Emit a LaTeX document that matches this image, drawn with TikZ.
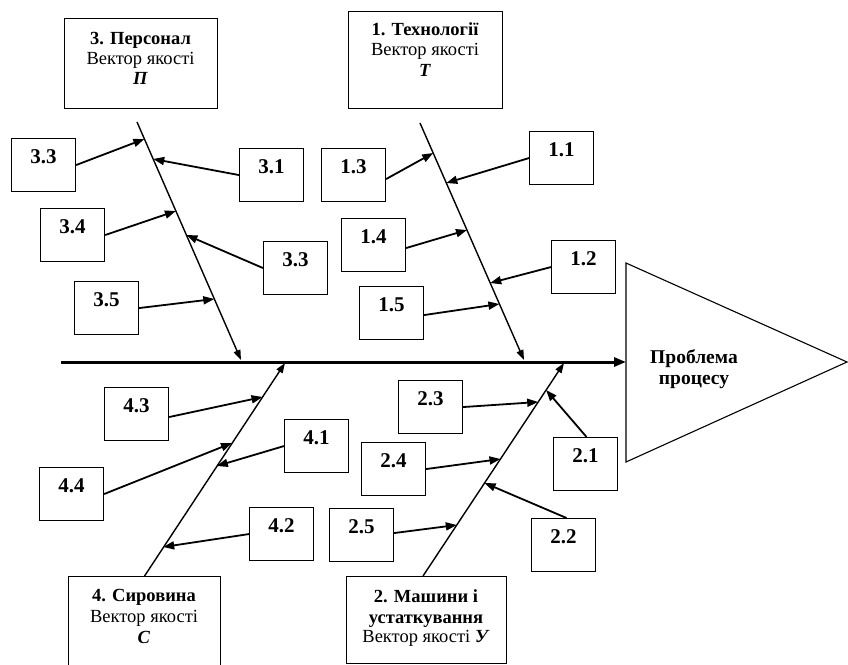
\documentclass[tikz,border=0pt]{standalone}
\usepackage{fontspec}
\setmainfont{Liberation Serif}
\usetikzlibrary{arrows.meta,calc}
\begin{document}
\begin{tikzpicture}[x=1pt,y=-1pt,
  sbox/.style={draw=black, line width=1.1pt, inner sep=0pt, anchor=north west, minimum width=64pt, minimum height=53pt},
  bbox/.style={draw=black, line width=1.1pt, inner sep=0pt, anchor=north west},
  num/.style={font=\fontsize{21}{24}\selectfont\bfseries, anchor=base, inner sep=0pt},
  ttl/.style={font=\fontsize{18.5}{21}\selectfont\bfseries, anchor=base, inner sep=0pt},
  ptl/.style={font=\fontsize{19.5}{22}\selectfont\bfseries, anchor=base, inner sep=0pt},
  txt/.style={font=\fontsize{18.5}{21}\selectfont, anchor=base, inner sep=0pt},
  bone/.style={line width=1.4pt, -{Triangle[length=10pt,width=7pt]}},
  conn/.style={line width=1.8pt, -{Triangle[length=11pt,width=8pt]}},
  spine/.style={line width=3pt, -{Triangle[length=12pt,width=9pt]}},
]
\useasboundingbox (0,0) rectangle (848,664);
\clip (0,0) rectangle (848,664);

% big boxes
\node[bbox, minimum width=153pt, minimum height=90pt] (B3) at (64,18) {};
\node[ttl] (B3a) at (140.5,44.5) {3. Персонал};
\node[txt] (B3b) at (140.5,64) {Вектор якості};
\node[ttl] (B3c) at (140.5,84.5) {\textit{П}};

\node[bbox, minimum width=154pt, minimum height=97pt] (B1) at (348,11) {};
\node[ttl] (B1a) at (425,35) {1. Технології};
\node[txt] (B1b) at (425,55) {Вектор якості};
\node[ttl] (B1c) at (425,76.5) {\textit{Т}};

\node[bbox, minimum width=152pt, minimum height=90pt] (B4) at (68,576) {};
\node[ttl] (B4a) at (144,601.5) {4. Сировина};
\node[txt] (B4b) at (144,622.5) {Вектор якості};
\node[ttl] (B4c) at (144,643) {\textit{С}};

\node[bbox, minimum width=160pt, minimum height=87pt] (B2) at (346,576) {};
\node[ttl] (B2a) at (426,602.5) {2. Машини і};
\node[ttl] (B2b) at (426,623) {устаткування};
\node[txt] (B2c) at (426,642) {Вектор якості \textbf{\textit{У}}};

% small boxes
\foreach \n/\x/\y/\t in {s33a/11/138/3.3, s31/239/148/3.1, s13/321/148/1.3, s11/529/131/1.1,
  s34/40/208/3.4, s33b/263/241/3.3, s14/341/218/1.4, s12/551/240/1.2,
  s35/74/281/3.5, s15/359/286/1.5, s43/104/387/4.3, s41/284/419/4.1,
  s44/39/467/4.4, s42/249/507/4.2, s23/398/380/2.3, s24/361/442/2.4,
  s21/553/437/2.1, s22/531/518/2.2, s25/329/508/2.5}{
  \node[sbox] (\n) at (\x,\y) {};
  \node[num] (\n l) at ($(\n.north)+(0,25)$) {\t};
}

% triangle
\coordinate (T1) at (626,263);
\coordinate (T2) at (847,362);
\coordinate (T3) at (626,462);
\coordinate (Tm) at (626,362);
\draw[line width=1.1pt] (T1) -- (T2) -- (T3) -- cycle;
\node[ptl] (P1) at (694,363) {Проблема};
\node[ptl] (P2) at (694,384) {процесу};

% spine
\coordinate (S0) at (61,362);
\draw[spine] (S0) -- (Tm);

% bones
\coordinate (b3s) at (137,122);
\coordinate (b3e) at (241,360);
\coordinate (b1s) at (420,123);
\coordinate (b1e) at (524,360);
\coordinate (b4e) at (285,363);
\coordinate (b2s) at (423,576);
\coordinate (b2e) at (564,363);
\draw[bone] (b3s) -- (b3e);
\draw[bone] (b1s) -- (b1e);
\draw[bone] (B4.north) -- (b4e);
\draw[bone] (b2s) -- (b2e);

% tips
\coordinate (t33a) at (144.4,139);
\coordinate (t31) at (153.2,159);
\coordinate (t34) at (175.9,211);
\coordinate (t33b) at (186.4,235);
\coordinate (t35) at (214.3,299);
\coordinate (t13) at (433.2,153);
\coordinate (t11) at (446.3,183);
\coordinate (t14) at (467.0,230);
\coordinate (t12) at (490.2,283);
\coordinate (t15) at (499.4,304);
\coordinate (t43) at (262.5,397);
\coordinate (t44) at (232.0,443);
\coordinate (t41) at (216.8,466);
\coordinate (t42) at (163.2,547);
\coordinate (t21) at (546.1,390);
\coordinate (t23) at (538.2,402);
\coordinate (t24) at (500.5,459);
\coordinate (t22) at (484.6,483);
\coordinate (t25) at (456.8,525);

\draw[conn] (s33a.east) -- (t33a);
\draw[conn] (s31.west) -- (t31);
\draw[conn] (s34.east) -- (t34);
\draw[conn] (s33b.west) -- (t33b);
\draw[conn] (s35.east) -- (t35);
\draw[conn] ([yshift=-4pt]s13.east) -- (t13);
\draw[conn] (s11.west) -- (t11);
\draw[conn] ([yshift=-3pt]s14.east) -- (t14);
\draw[conn] (s12.west) -- (t12);
\draw[conn] ([yshift=-2pt]s15.east) -- (t15);
\draw[conn] ([yshift=-3pt]s43.east) -- (t43);
\draw[conn] (s44.east) -- (t44);
\draw[conn] (s41.west) -- (t41);
\draw[conn] (s42.west) -- (t42);
\draw[conn] ([xshift=1pt]s21.north) -- (t21);
\draw[conn] (s23.east) -- (t23);
\draw[conn] (s24.east) -- (t24);
\draw[conn] ([xshift=3pt]s22.north) -- (t22);
\draw[conn] ([yshift=2pt]s25.east) -- (t25);
\end{tikzpicture}
\end{document}
